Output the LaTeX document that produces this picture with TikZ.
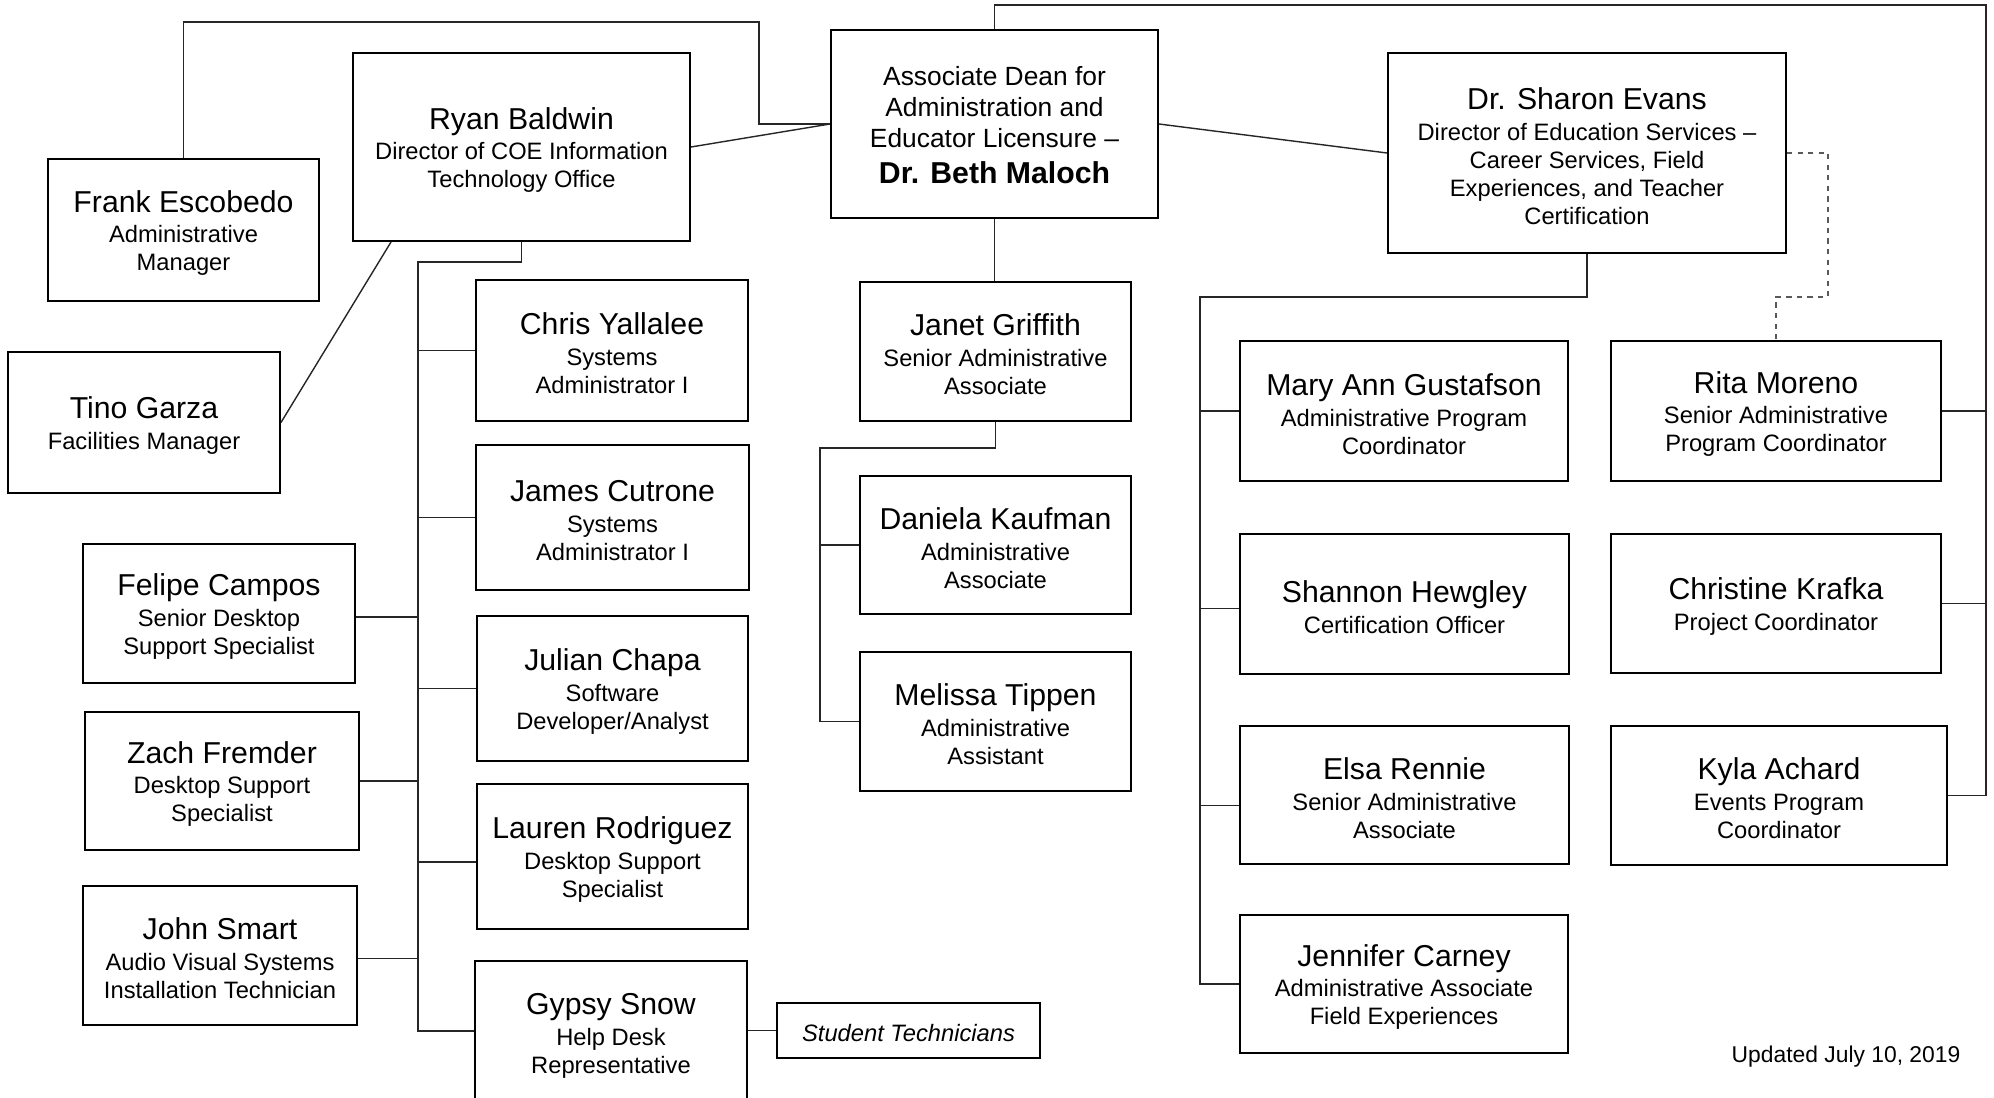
\documentclass[tikz,border=0pt]{standalone}
\usepackage{fontspec}
\setmainfont{Liberation Sans}
\usetikzlibrary{fit,calc}
\newcommand{\nm}[1]{{\fontsize{17.2}{20}\selectfont #1}\\[1.5pt]}
\newcommand{\pbox}[6]{%
  \node[box, fit={(#2,#3) (#4,#5)}] (#1) {};
  \node[txt] (#1-t) at (#1.center) {#6};}
\begin{document}
\begin{tikzpicture}[x=0.02cm,y=-0.02cm,
  box/.style={draw, line width=1.1pt, inner sep=0pt},
  txt/.style={inner sep=0pt, align=center, yshift=-0.06cm, font=\fontsize{13.5}{16}\selectfont},
  conn/.style={line width=0.8pt, draw=black!85},
  dconn/.style={line width=0.8pt, draw=black!65, dashed}]
\useasboundingbox (0,0) rectangle (1994,1098);
% top level
\node[box, fit={(831,30) (1158,218)}] (ad) {};
\node[txt, yshift=0.04cm, font=\fontsize{15}{17.6}\selectfont] (ad-t) at (ad.center) {Associate Dean for\\Administration and\\Educator Licensure –\\[2.6pt]{\fontsize{17.2}{20}\selectfont\bfseries Dr. Beth Maloch}};
\pbox{ryan}{353}{53}{690}{241}{\nm{Ryan Baldwin}Director of COE Information\\Technology Office}
\pbox{sharon}{1388}{53}{1786}{253}{\nm{Dr. Sharon Evans}Director of Education Services –\\Career Services, Field\\Experiences, and Teacher\\Certification}
\pbox{frank}{48}{159}{319}{301}{\nm{Frank Escobedo}Administrative\\Manager}
\pbox{tino}{8}{352}{280}{493}{\nm{Tino Garza}Facilities Manager}
% IT column
\pbox{chris}{476}{280}{748}{421}{\nm{Chris Yallalee}Systems\\Administrator I}
\pbox{james}{476}{445}{749}{590}{\nm{James Cutrone}Systems\\Administrator I}
\pbox{julian}{477}{616}{748}{761}{\nm{Julian Chapa}Software\\Developer/Analyst}
\pbox{lauren}{477}{784}{748}{929}{\nm{Lauren Rodriguez}Desktop Support\\Specialist}
\pbox{gypsy}{475}{961}{747}{1105}{\nm{Gypsy Snow}Help Desk\\Representative}
\pbox{student}{777}{1003}{1040}{1058}{\itshape Student Technicians}
\pbox{felipe}{83}{544}{355}{683}{\nm{Felipe Campos}Senior Desktop\\Support Specialist}
\pbox{zach}{85}{712}{359}{850}{\nm{Zach Fremder}Desktop Support\\Specialist}
\pbox{john}{83}{886}{357}{1025}{\nm{John Smart}Audio Visual Systems\\Installation Technician}
% middle column
\pbox{janet}{860}{282}{1131}{421}{\nm{Janet Griffith}Senior Administrative\\Associate}
\pbox{daniela}{860}{476}{1131}{614}{\nm{Daniela Kaufman}Administrative\\Associate}
\pbox{melissa}{860}{652}{1131}{791}{\nm{Melissa Tippen}Administrative\\Assistant}
% Sharon column
\pbox{maryann}{1240}{341}{1568}{481}{\nm{Mary Ann Gustafson}Administrative Program\\Coordinator}
\pbox{shannon}{1240}{534}{1569}{674}{\nm{Shannon Hewgley}Certification Officer}
\pbox{elsa}{1240}{726}{1569}{864}{\nm{Elsa Rennie}Senior Administrative\\Associate}
\pbox{jennifer}{1240}{915}{1568}{1053}{\nm{Jennifer Carney}Administrative Associate\\Field Experiences}
\pbox{rita}{1611}{341}{1941}{481}{\nm{Rita Moreno}Senior Administrative\\Program Coordinator}
\pbox{christine}{1611}{534}{1941}{673}{\nm{Christine Krafka}Project Coordinator}
\pbox{kyla}{1611}{726}{1947}{865}{\nm{Kyla Achard}Events Program\\Coordinator}
\node[font=\fontsize{13}{15}\selectfont] (upd) at (1846,1057) {Updated July 10, 2019};
% coordinates for trunks
\coordinate (ftop) at (759,22);
\coordinate (rtop) at (1986,5);
\coordinate (itc) at (418,262);
\coordinate (jc) at (820,448);
\coordinate (sc) at (1200,297);
\coordinate (dc1) at (1828,297);
% connectors
\draw[conn] (frank.north) |- (ftop) |- (ad.west);
\draw[conn] (ryan.east) -- (ad.west);
\draw[conn] (ad.east) -- (sharon.west);
\draw[conn] (ad.north) |- (rtop) |- (kyla.east);
\draw[conn] (rita.east) -- (rita.east -| rtop);
\draw[conn] (christine.east) -- (christine.east -| rtop);
\draw[conn] (ad.south) -- (ad.south |- janet.north);
\draw[conn] (janet.south) |- (jc) |- (melissa.west);
\draw[conn] (daniela.west -| jc) -- (daniela.west);
\draw[conn] (sharon.south) |- (sc) |- (jennifer.west);
\draw[conn] (maryann.west -| sc) -- (maryann.west);
\draw[conn] ([yshift=-0.09cm]shannon.west -| sc) -- ([yshift=-0.09cm]shannon.west);
\draw[conn] ([yshift=-0.21cm]elsa.west -| sc) -- ([yshift=-0.21cm]elsa.west);
\draw[dconn] (sharon.east) -| (dc1) -| (rita.north);
\draw[conn] (ryan.south) |- (itc) |- ([yshift=0.04cm]gypsy.west);
\draw[conn] (chris.west -| itc) -- (chris.west);
\draw[conn] (james.west -| itc) -- (james.west);
\draw[conn] (julian.west -| itc) -- (julian.west);
\draw[conn] ([yshift=-0.11cm]lauren.west -| itc) -- ([yshift=-0.11cm]lauren.west);
\draw[conn] ([yshift=-0.07cm]felipe.east) -- ([yshift=-0.07cm]felipe.east -| itc);
\draw[conn] (zach.east) -- (zach.east -| itc);
\draw[conn] ([yshift=-0.06cm]john.east) -- ([yshift=-0.06cm]john.east -| itc);
\draw[conn] ([xshift=0.78cm]ryan.south west) -- (tino.east);
\draw[conn] (student.west -| gypsy.east) -- (student.west);
\end{tikzpicture}
\end{document}
